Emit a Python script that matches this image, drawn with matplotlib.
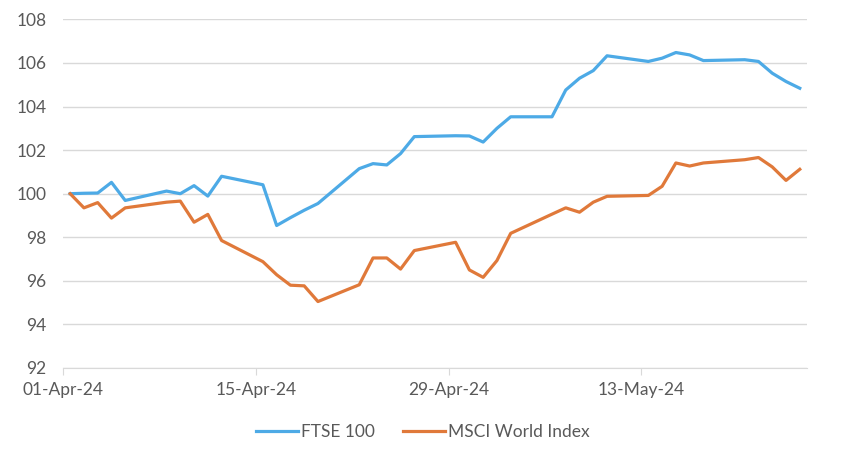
import matplotlib
matplotlib.use('Agg')
import matplotlib.pyplot as plt

# calendar days after 01-Apr-24 (trading days only)
days = [0, 1, 2, 3, 4, 7, 8, 9, 10, 11, 14, 15, 16, 17, 18, 21, 22, 23, 24, 25,
        28, 29, 30, 31, 32, 35, 36, 37, 38, 39, 42, 43, 44, 45, 46, 49, 50, 51, 52, 53]
ftse = [100.0, 100.02, 100.03, 100.52, 99.69, 100.12, 100.0, 100.37, 99.89, 100.8,
        100.41, 98.54, 98.9, 99.24, 99.55, 101.15, 101.38, 101.32, 101.84, 102.62,
        102.66, 102.65, 102.37, 103.0, 103.53, 103.53, 104.76, 105.3, 105.65, 106.33,
        106.07, 106.22, 106.48, 106.37, 106.11, 106.15, 106.07, 105.53, 105.15, 104.84]
msci = [100.0, 99.35, 99.59, 98.88, 99.35, 99.61, 99.66, 98.69, 99.05, 97.85,
        96.88, 96.28, 95.8, 95.77, 95.05, 95.82, 97.05, 97.05, 96.54, 97.39,
        97.77, 96.5, 96.16, 96.93, 98.18, 99.06, 99.35, 99.15, 99.61, 99.88,
        99.92, 100.34, 101.41, 101.27, 101.41, 101.56, 101.66, 101.23, 100.61, 101.12]
tick_days = [0, 14, 28, 42]
tick_labels = ['01-Apr-24', '15-Apr-24', '29-Apr-24', '13-May-24']
y_ticks = list(range(92, 109, 2))

plt.rcParams['font.family'] = ['Lato', 'DejaVu Sans']

fig = plt.figure(figsize=(8.46, 4.62), dpi=100)
ax = fig.add_axes([0.0748, 0.2035, 0.8787, 0.7545])

x = [d + 0.5 for d in days]
ax.plot(x, ftse, color='#4DAAE6', lw=2.3, label='FTSE 100', solid_joinstyle='round')
ax.plot(x, msci, color='#E0793A', lw=2.3, label='MSCI World Index', solid_joinstyle='round')

ax.set_xlim(0, 54)
ax.set_ylim(92, 108)
ax.set_yticks(y_ticks)
ax.set_xticks(tick_days)
ax.set_xticklabels(tick_labels)
ax.grid(axis='y', color='#D9D9D9', lw=1)
ax.set_axisbelow(True)
for s in ['top', 'right', 'left']:
    ax.spines[s].set_visible(False)
ax.spines['bottom'].set_color('#D9D9D9')
ax.tick_params(axis='y', length=0, pad=12, labelsize=12.5, labelcolor='#595959')
ax.tick_params(axis='x', length=5, color='#D9D9D9', pad=5, labelsize=12.5, labelcolor='#595959')

leg = fig.legend(loc='center', bbox_to_anchor=(0.5, 0.065), ncol=2, frameon=False,
                 fontsize=12.5, handlelength=2.4, columnspacing=1.6, handletextpad=0.2)
for t in leg.get_texts():
    t.set_color('#595959')

fig.savefig('out.png', dpi=100)
